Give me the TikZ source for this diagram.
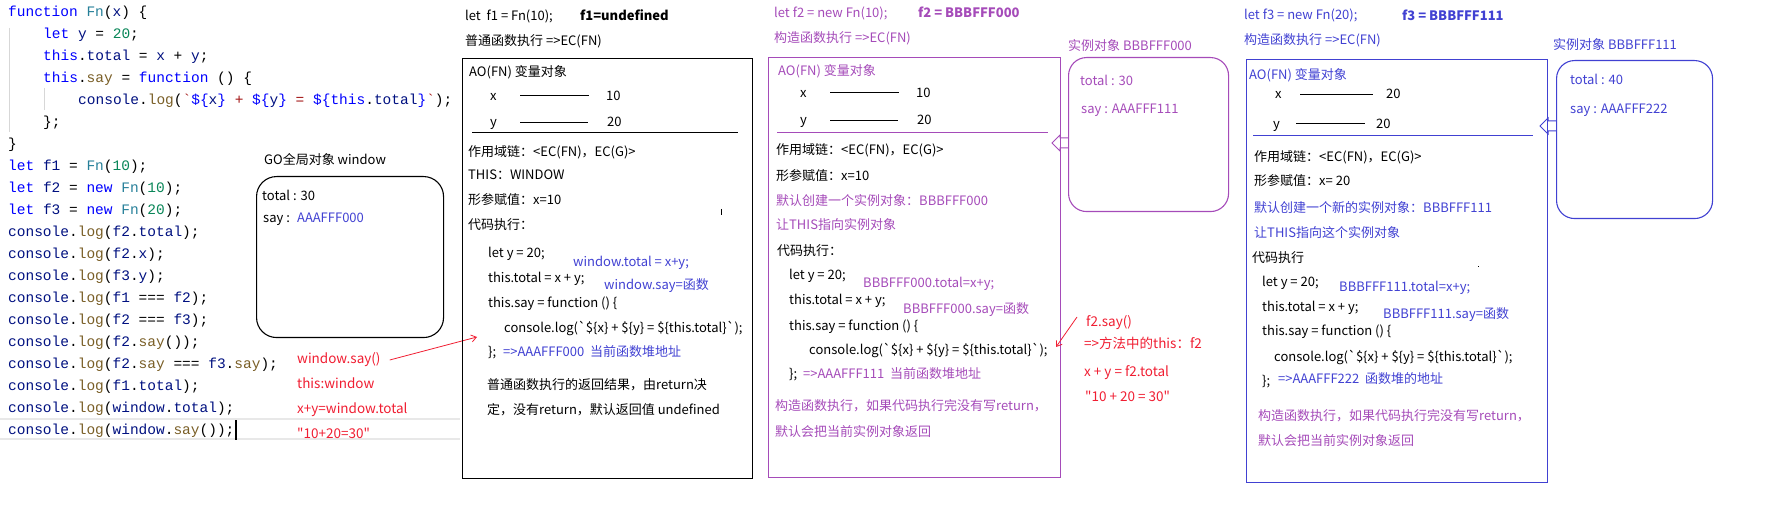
\documentclass[tikz,border=0pt]{standalone}
\usepackage{fontspec}
\setmainfont{Noto Sans CJK SC}
\newfontfamily\codefont{Liberation Mono}
\usetikzlibrary{arrows.meta}
\definecolor{ckw}{RGB}{0,0,255}
\definecolor{cfn}{RGB}{38,127,153}
\definecolor{cnum}{RGB}{9,134,88}
\definecolor{cmt}{RGB}{121,94,38}
\definecolor{cid}{RGB}{0,16,128}
\definecolor{cstr}{RGB}{163,21,21}
\definecolor{pur}{RGB}{165,75,185}
\definecolor{blu}{RGB}{65,65,210}
\definecolor{rd}{RGB}{240,30,50}
\definecolor{guide}{RGB}{215,215,215}
\definecolor{hl}{RGB}{232,232,232}
\newcommand\jsK[1]{\textcolor{ckw}{#1}}
\newcommand\jsF[1]{\textcolor{cfn}{#1}}
\newcommand\jsN[1]{\textcolor{cnum}{#1}}
\newcommand\jsM[1]{\textcolor{cmt}{#1}}
\newcommand\jsI[1]{\textcolor{cid}{#1}}
\newcommand\jsS[1]{\textcolor{cstr}{#1}}
\newcommand\bq{\XeTeXglyph\XeTeXcharglyph"60\relax}
\newcommand\dq{\XeTeXglyph\XeTeXcharglyph"22\relax}
\newcommand\tpl{console.log(\bq\$\{x\} + \$\{y\} = \$\{this.total\}\bq);}
\begin{document}
\begin{tikzpicture}[x=1pt,y=-1pt,
  txt/.style={anchor=west,inner sep=0pt,text height=10pt,text depth=1.5pt,font=\fontsize{13}{15}\selectfont},
  code/.style={anchor=west,inner sep=0pt,text height=11pt,text depth=1.5pt,font=\codefont\fontsize{14.5}{17}\selectfont,text=black},
  bigbox/.style={draw,anchor=north west,inner sep=0pt,line width=1.3pt},
  objbox/.style={draw,anchor=north west,inner sep=0pt,line width=1.1pt,rounded corners=18pt},
  redarrow/.style={rd,line width=0.8pt,-{Straight Barb[length=5pt,width=7pt]}},
  blockarrow/.style={line width=1pt}]
\useasboundingbox (0,0) rectangle (1766,510);

% ---------- code editor ----------
\draw[guide,line width=1pt] (9,28) -- (9,132);
\draw[guide,line width=1pt] (44,88) -- (44,110);
\draw[hl,line width=1.5pt] (0,419) -- (460,419);
\draw[hl,line width=1.5pt] (0,439) -- (460,439);
\node[code] (c1) at (8,12) {\jsK{function} \jsF{Fn}(\jsI{x}) \{};
\node[code] (c2) at (43,34) {\jsK{let} \jsI{y} = \jsN{20};};
\node[code] (c3) at (43,56) {\jsK{this}.\jsI{total} = \jsI{x} + \jsI{y};};
\node[code] (c4) at (43,78) {\jsK{this}.\jsM{say} = \jsK{function} () \{};
\node[code] (c5) at (78,100) {\jsI{console}.\jsM{log}(\jsS{\bq}\jsK{\$\{}\jsI{x}\jsK{\}}\jsS{\ +\ }\jsK{\$\{}\jsI{y}\jsK{\}}\jsS{\ =\ }\jsK{\$\{this}.\jsI{total}\jsK{\}}\jsS{\bq});};
\node[code] (c6) at (43,122) {\};};
\node[code] (c7) at (8,144) {\}};
\node[code] (c8) at (8,166) {\jsK{let} \jsI{f1} = \jsF{Fn}(\jsN{10});};
\node[code] (c9) at (8,188) {\jsK{let} \jsI{f2} = \jsK{new} \jsF{Fn}(\jsN{10});};
\node[code] (c10) at (8,210) {\jsK{let} \jsI{f3} = \jsK{new} \jsF{Fn}(\jsN{20});};
\node[code] (c11) at (8,232) {\jsI{console}.\jsM{log}(\jsI{f2}.\jsI{total});};
\node[code] (c12) at (8,254) {\jsI{console}.\jsM{log}(\jsI{f2}.\jsI{x});};
\node[code] (c13) at (8,276) {\jsI{console}.\jsM{log}(\jsI{f3}.\jsI{y});};
\node[code] (c14) at (8,298) {\jsI{console}.\jsM{log}(\jsI{f1} === \jsI{f2});};
\node[code] (c15) at (8,320) {\jsI{console}.\jsM{log}(\jsI{f2} === \jsI{f3});};
\node[code] (c16) at (8,342) {\jsI{console}.\jsM{log}(\jsI{f2}.\jsM{say}());};
\node[code] (c17) at (8,364) {\jsI{console}.\jsM{log}(\jsI{f2}.\jsM{say} === \jsI{f3}.\jsM{say});};
\node[code] (c18) at (8,386) {\jsI{console}.\jsM{log}(\jsI{f1}.\jsI{total});};
\node[code] (c19) at (8,408) {\jsI{console}.\jsM{log}(\jsI{window}.\jsI{total});};
\node[code] (c20) at (8,430) {\jsI{console}.\jsM{log}(\jsI{window}.\jsM{say}());};
\draw[line width=2pt] (236,420) -- (236,440);

% ---------- GO window object ----------
\node[txt] (gotitle) at (264,160) {GO全局对象 window};
\node[objbox,black,rounded corners=20pt,minimum width=187pt,minimum height=161pt] (go) at (256,176) {};
\node[txt] (gotot) at (262,196) {total : 30};
\node[txt] (gosay) at (263,218) {say :};
\node[txt,text=blu] (goaddr) at (297,218) {AAAFFF000};

\node[txt,text=rd,font=\fontsize{13.5}{15}\selectfont] (ws) at (297,359) {window.say()};
\node[txt,text=rd,font=\fontsize{13.5}{15}\selectfont] (tw) at (297,384) {this:window};
\node[txt,text=rd,font=\fontsize{13.5}{15}\selectfont] (xy) at (297,409) {x+y=window.total};
\node[txt,text=rd,font=\fontsize{13.5}{15}\selectfont] (res) at (297,434) {\dq 10+20=30\dq};
\coordinate (a1) at (477,337);
\draw[redarrow] ([xshift=9pt,yshift=-1pt]ws.east) -- (a1);

% ---------- Box 1 : f1 ----------
\node[txt] (h1a) at (465,16) {let\ \ f1 = Fn(10);};
\node[txt,font=\bfseries\fontsize{13}{15}\selectfont] (h1b) at (580,16) {f1=undefined};
\node[txt] (h1c) at (465,41) {普通函数执行 =>EC(FN)};
\node[bigbox,black,minimum width=290pt,minimum height=420pt] (B1) at (462,58) {};
\node[txt] (b1ao) at (469,72) {AO(FN) 变量对象};
\node[txt] (b1x) at (490,96) {x};
\draw[line width=1pt] (520,96) -- (589,96);
\node[txt] (b1x10) at (606,96) {10};
\node[txt] (b1y) at (490,122) {y};
\draw[line width=1pt] (520,123) -- (588,123);
\node[txt] (b1y20) at (607,122) {20};
\draw[line width=1pt] (472,133) -- (738,133);
\node[txt] (b1sc) at (468,152) {作用域链：<EC(FN)，EC(G)>};
\node[txt] (b1this) at (468,175) {THIS：WINDOW};
\node[txt] (b1arg) at (468,200) {形参赋值：x=10};
\node[txt] (b1run) at (468,225) {代码执行：};
\draw[line width=0.8pt] (721,209) -- (721,215);
\node[txt] (b1l1) at (488,253) {let y = 20;};
\node[txt] (b1l2) at (488,278) {this.total = x + y;};
\node[txt] (b1l3) at (488,303) {this.say = function () \{};
\node[txt] (b1l4) at (504,328) {\tpl};
\node[txt] (b1l5) at (488,352) {\};};
\node[txt,text=blu] (b1addr) at (503,352) {=>AAAFFF000\ \ 当前函数堆地址};
\node[txt,text=blu] (b1n1) at (573,262) {window.total = x+y;};
\node[txt,text=blu] (b1n2) at (604,285) {window.say=函数};
\node[txt] (b1r1) at (487,385) {普通函数执行的返回结果，由return决};
\node[txt] (b1r2) at (487,410) {定，没有return，默认返回值 undefined};

% ---------- Box 2 : f2 ----------
\node[txt,text=pur] (h2a) at (774,13) {let f2 = new Fn(10);};
\node[txt,text=pur,font=\bfseries\fontsize{13}{15}\selectfont] (h2b) at (918,13) {f2 = BBBFFF000};
\node[txt,text=pur] (h2c) at (774,38) {构造函数执行 =>EC(FN)};
\node[bigbox,pur,minimum width=292pt,minimum height=420pt] (B2) at (768,57) {};
\node[txt,text=pur] (b2ao) at (778,71) {AO(FN) 变量对象};
\node[txt] (b2x) at (800,93) {x};
\draw[line width=1pt] (830,93) -- (899,93);
\node[txt] (b2x10) at (916,93) {10};
\node[txt] (b2y) at (800,120) {y};
\draw[line width=1pt] (830,121) -- (898,121);
\node[txt] (b2y20) at (917,120) {20};
\draw[pur,line width=1pt] (777,133) -- (1048,133);
\node[txt] (b2sc) at (776,150) {作用域链：<EC(FN)，EC(G)>};
\node[txt] (b2arg) at (776,176) {形参赋值：x=10};
\node[txt,text=pur] (b2new) at (776,201) {默认创建一个实例对象：BBBFFF000};
\node[txt,text=pur] (b2this) at (776,225) {让THIS指向实例对象};
\node[txt] (b2run) at (777,251) {代码执行：};
\node[txt] (b2l1) at (789,275) {let y = 20;};
\node[txt] (b2l2) at (789,300) {this.total = x + y;};
\node[txt] (b2l3) at (789,326) {this.say = function () \{};
\node[txt] (b2l4) at (809,350) {\tpl};
\node[txt] (b2l5) at (789,374) {\};};
\node[txt,text=pur] (b2addr) at (803,374) {=>AAAFFF111\ \ 当前函数堆地址};
\node[txt,text=pur] (b2n1) at (863,283) {BBBFFF000.total=x+y;};
\node[txt,text=pur] (b2n2) at (903,309) {BBBFFF000.say=函数};
\node[txt,text=pur] (b2r1) at (775,406) {构造函数执行，如果代码执行完没有写return，};
\node[txt,text=pur] (b2r2) at (775,432) {默认会把当前实例对象返回};

% instance object BBBFFF000
\node[txt,text=pur] (i2t) at (1068,46) {实例对象 BBBFFF000};
\node[objbox,pur,minimum width=160pt,minimum height=154pt] (I2) at (1068,57) {};
\node[txt,text=pur] (i2tot) at (1080,81) {total : 30};
\node[txt,text=pur] (i2say) at (1081,109) {say : AAAFFF111};
\draw[blockarrow,pur] ([yshift=-81pt]I2.north west) -- ++(-8,0) -- ++(0,-3) -- ++(-8,8) -- ++(8,8) -- ++(0,-3) -- ++(8,0);

% red note for f2.say()
\node[txt,text=rd,font=\fontsize{13.5}{15}\selectfont] (fs) at (1086,322) {f2.say()};
\node[txt,text=rd,font=\fontsize{13.5}{15}\selectfont] (fthis) at (1084,344) {=>方法中的this：f2};
\node[txt,text=rd,font=\fontsize{13.5}{15}\selectfont] (fxy) at (1084,372) {x + y = f2.total};
\node[txt,text=rd,font=\fontsize{13.5}{15}\selectfont] (fres) at (1085,397) {\dq 10 + 20 = 30\dq};
\coordinate (a2) at (1056,347);
\draw[redarrow] ([xshift=-9pt,yshift=5pt]fs.west) -- (a2);

% ---------- Box 3 : f3 ----------
\node[txt,text=blu] (h3a) at (1244,15) {let f3 = new Fn(20);};
\node[txt,text=blu,font=\bfseries\fontsize{13}{15}\selectfont] (h3b) at (1402,16) {f3 = BBBFFF111};
\node[txt,text=blu] (h3c) at (1244,40) {构造函数执行 =>EC(FN)};
\node[bigbox,blu,minimum width=301pt,minimum height=423pt] (B3) at (1246,59) {};
\node[txt,text=blu] (b3ao) at (1249,75) {AO(FN) 变量对象};
\node[txt] (b3x) at (1275,94) {x};
\draw[line width=1pt] (1300,95) -- (1373,95);
\node[txt] (b3x20) at (1386,94) {20};
\node[txt] (b3y) at (1273,124) {y};
\draw[line width=1pt] (1296,124) -- (1365,124);
\node[txt] (b3y20) at (1376,124) {20};
\draw[blu,line width=1pt] (1253,136) -- (1533,136);
\node[txt] (b3sc) at (1254,157) {作用域链：<EC(FN)，EC(G)>};
\node[txt] (b3arg) at (1254,181) {形参赋值：x= 20};
\node[txt,text=blu] (b3new) at (1254,208) {默认创建一个新的实例对象：BBBFFF111};
\node[txt,text=blu] (b3this) at (1254,233) {让THIS指向这个实例对象};
\node[txt] (b3run) at (1252,258) {代码执行};
\fill (1478,266.5) rectangle (1479,267.5);
\node[txt] (b3l1) at (1262,282) {let y = 20;};
\node[txt] (b3l2) at (1262,307) {this.total = x + y;};
\node[txt] (b3l3) at (1262,331) {this.say = function () \{};
\node[txt] (b3l4) at (1274,357) {\tpl};
\node[txt] (b3l5) at (1262,381) {\};};
\node[txt,text=blu] (b3addr) at (1278,379) {=>AAAFFF222\ \ 函数堆的地址};
\node[txt,text=blu] (b3n1) at (1339,287) {BBBFFF111.total=x+y;};
\node[txt,text=blu] (b3n2) at (1383,314) {BBBFFF111.say=函数};
\node[txt,text=pur] (b3r1) at (1258,416) {构造函数执行，如果代码执行完没有写return，};
\node[txt,text=pur] (b3r2) at (1258,441) {默认会把当前实例对象返回};

% instance object BBBFFF111
\node[txt,text=blu] (i3t) at (1553,45) {实例对象 BBBFFF111};
\node[objbox,blu,minimum width=156pt,minimum height=158pt] (I3) at (1556,60) {};
\node[txt,text=blu] (i3tot) at (1570,80) {total : 40};
\node[txt,text=blu] (i3say) at (1570,109) {say : AAAFFF222};
\draw[blockarrow,blu] ([yshift=-61pt]I3.north west) -- ++(-8,0) -- ++(0,-3) -- ++(-8,8) -- ++(8,8) -- ++(0,-3) -- ++(8,0);
\end{tikzpicture}
\end{document}
